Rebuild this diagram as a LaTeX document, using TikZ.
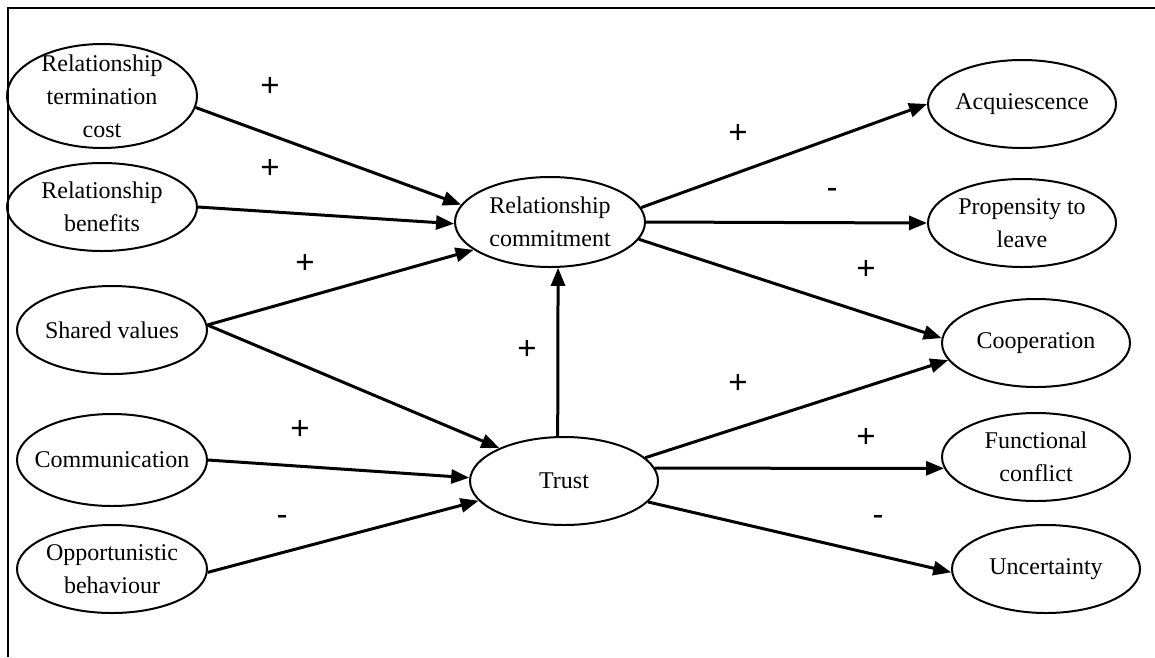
\documentclass[tikz,border=0pt]{standalone}
\usepackage{fontspec}
\setmainfont{Liberation Serif}
\newfontfamily\signfont{Liberation Sans}
\usetikzlibrary{shapes.geometric,arrows.meta}

\tikzset{
  concept/.style={ellipse, draw, line width=2pt, inner sep=0pt,
    minimum width=190pt, minimum height=88pt},
  ctext/.style={align=center, font=\fontsize{24}{33}\selectfont, inner sep=0pt},
  link/.style={line width=3pt, -{Triangle[length=18pt,width=14pt]}},
  sign/.style={font=\signfont\fontsize{33}{33}\selectfont, inner sep=0pt,
    text height=0.59em, text depth=0pt},
}

\begin{document}
\begin{tikzpicture}[x=1pt,y=-1pt]
\useasboundingbox (0,0) rectangle (1155,657);

% open frame (top and left sides)
\draw[line width=2.4pt] (8,657) -- (8,8) -- (1155,8);

% antecedents
\node[concept, minimum height=104pt, label={[ctext]center:Relationship\\termination\\cost}] (rtc) at (102,96) {};
\node[concept, label={[ctext]center:Relationship\\benefits}] (rb) at (102,207) {};
\node[concept, label={[ctext]center:Shared values}] (sv) at (112,330) {};
\node[concept, minimum height=92pt, label={[ctext]center:Communication}] (com) at (112,460) {};
\node[concept, label={[ctext]center:Opportunistic\\behaviour}] (ob) at (112,569) {};

% mediating variables
\node[concept, minimum height=90pt, label={[ctext]center:Relationship\\commitment}] (rc) at (550,222) {};
\node[concept, minimum width=188pt, label={[ctext]center:Trust}] (tr) at (564,481) {};

% outcomes
\node[concept, minimum width=188pt, label={[ctext]center:Acquiescence}] (acq) at (1022,104) {};
\node[concept, minimum width=188pt, label={[ctext]center:Propensity to\\leave}] (ptl) at (1022,223) {};
\node[concept, minimum width=188pt, label={[ctext]center:Cooperation}] (coop) at (1036,343) {};
\node[concept, minimum width=188pt, label={[ctext]center:Functional\\conflict}] (fc) at (1036,457) {};
\node[concept, minimum width=188pt, label={[ctext]center:Uncertainty}] (unc) at (1046,569) {};

% paths into commitment and trust
\draw[link] (rtc.-7) -- (rc.169);
\draw[link] (rb.east) -- (rc.181);
\draw[link] (sv.3) -- (rc.200);
\draw[link] (sv.3) -- (tr.153);
\draw[link] (com.east) -- (tr.178);
\draw[link] (ob.-2) -- (tr.193);
\draw[link] (tr.98) -- (rc.-80);

% paths out of commitment
\draw[link] (rc.9) -- (acq.west);
\draw[link] (rc.east) -- (ptl.west);
\draw[link] (rc.-11) -- (coop.177);

% paths out of trust
\draw[link] (tr.16) -- (coop.191);
\draw[link] (tr.8) -- (fc.187);
\draw[link] (tr.-14) -- (unc.182);

% signs of the effects
\node[sign] (s1) at (270,94) {+};
\node[sign] (s2) at (270,176) {+};
\node[sign] (s3) at (305,271) {+};
\node[sign] (s4) at (527,357) {+};
\node[sign] (s5) at (300,437) {+};
\node[sign] (s6) at (282,523) {-};
\node[sign] (s7) at (738,141) {+};
\node[sign] (s8) at (832,196) {-};
\node[sign] (s9) at (866,277) {+};
\node[sign] (s10) at (738,391) {+};
\node[sign] (s11) at (866,445) {+};
\node[sign] (s12) at (878,523) {-};
\end{tikzpicture}
\end{document}
